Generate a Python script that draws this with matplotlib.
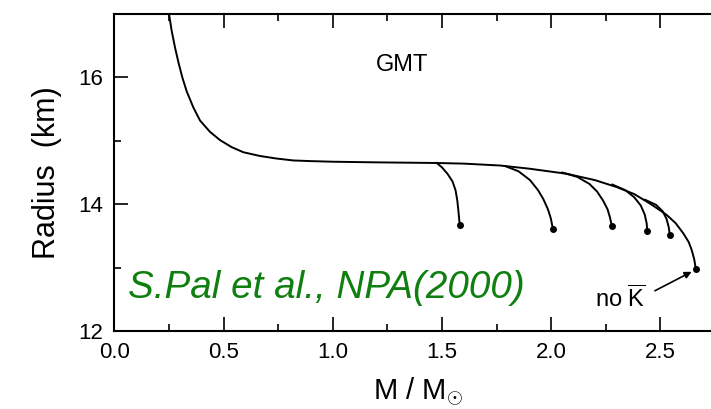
import matplotlib
matplotlib.use("Agg")
import matplotlib.pyplot as plt
from matplotlib.ticker import MultipleLocator, FormatStrFormatter

plt.rcParams["font.family"] = ["Liberation Sans", "DejaVu Sans"]
plt.rcParams["mathtext.fontset"] = "custom"
plt.rcParams["mathtext.rm"] = "Liberation Sans"
plt.rcParams["mathtext.it"] = "Liberation Sans:italic"
plt.rcParams["mathtext.bf"] = "Liberation Sans:bold"

# Mass-radius relation, GMT model (nucleons only)
main_mass = [0.251, 0.262, 0.277, 0.293, 0.311, 0.331, 0.361, 0.392, 0.438,
             0.484, 0.537, 0.590, 0.667, 0.743, 0.819, 0.896, 1.000, 1.200,
             1.476, 1.600, 1.767, 1.900, 2.071, 2.200, 2.300, 2.380, 2.452,
             2.500, 2.529, 2.570, 2.605, 2.630, 2.643, 2.655, 2.662]
main_radius = [16.98, 16.74, 16.48, 16.24, 16.00, 15.78, 15.53, 15.32, 15.14,
               15.01, 14.90, 14.82, 14.76, 14.72, 14.69, 14.68, 14.67, 14.66,
               14.65, 14.64, 14.61, 14.56, 14.48, 14.38, 14.27, 14.16, 14.01,
               13.90, 13.83, 13.70, 13.54, 13.40, 13.28, 13.13, 12.98]

# Branches with antikaon condensation
branch_mass = [
    [1.476, 1.500, 1.525, 1.548, 1.562, 1.570, 1.575, 1.579, 1.582],
    [1.790, 1.850, 1.903, 1.940, 1.964, 1.985, 1.998, 2.005, 2.007],
    [2.050, 2.120, 2.175, 2.210, 2.237, 2.258, 2.270, 2.276, 2.277],
    [2.280, 2.340, 2.380, 2.410, 2.428, 2.437, 2.440],
    [2.430, 2.480, 2.510, 2.528, 2.538, 2.543],
]
branch_radius = [
    [14.65, 14.58, 14.48, 14.36, 14.22, 14.06, 13.90, 13.75, 13.67],
    [14.60, 14.52, 14.38, 14.22, 14.08, 13.92, 13.78, 13.66, 13.61],
    [14.50, 14.43, 14.32, 14.20, 14.06, 13.92, 13.78, 13.68, 13.65],
    [14.31, 14.22, 14.11, 13.98, 13.84, 13.70, 13.58],
    [14.07, 13.99, 13.89, 13.77, 13.64, 13.52],
]

W, H = 711, 409
fig = plt.figure(figsize=(W / 100, H / 100), dpi=100)
x0, x1 = 114.4, 114.4 + 2.9 * 218.4
y_top, y_bot = 14, 331
ax = fig.add_axes([x0 / W, (H - y_bot) / H, (x1 - x0) / W, (y_bot - y_top) / H])

lw = 1.4
ax.plot(main_mass, main_radius, color="black", lw=lw,
        solid_joinstyle="round", solid_capstyle="round")
ax.plot(main_mass[-1], main_radius[-1], "o", color="black", ms=4)
for m, r in zip(branch_mass, branch_radius):
    ax.plot(m, r, color="black", lw=lw, solid_joinstyle="round")
    ax.plot(m[-1], r[-1], "o", color="black", ms=4)

ax.set_xlim(0, 2.9)
ax.set_ylim(12, 17)
ax.xaxis.set_major_locator(MultipleLocator(0.5))
ax.xaxis.set_minor_locator(MultipleLocator(0.25))
ax.yaxis.set_major_locator(MultipleLocator(2))
ax.yaxis.set_minor_locator(MultipleLocator(1))
ax.xaxis.set_major_formatter(FormatStrFormatter("%.1f"))
ax.tick_params(which="both", direction="in", top=True, right=True,
               width=1.2, labelsize=16, pad=8)
ax.tick_params(which="major", length=10)
ax.tick_params(which="minor", length=5)
for s in ax.spines.values():
    s.set_linewidth(1.5)

ax.set_ylabel("Radius  (km)", fontsize=22, labelpad=12)
fig.text(372.7 / W, (H - 399.0) / H, r"M / M$_{\odot}$", fontsize=21,
         ha="left", va="baseline")

ax.text(1.319, 16.10, "GMT", fontsize=17, ha="center", va="baseline")
ax.text(0.06, 12.52, "S.Pal et al., NPA(2000)", fontsize=27.8, style="italic",
        color="#0f7f0f", ha="left", va="baseline")
ax.text(2.20, 12.378, r"no $\overline{\mathrm{K}}$", fontsize=17,
        ha="left", va="baseline")
ax.annotate("", xy=(2.643, 12.934), xytext=(2.475, 12.635),
            arrowprops=dict(arrowstyle="-|>", color="black", lw=1.2,
                            mutation_scale=10, shrinkA=0, shrinkB=0))

fig.savefig("out.png", dpi=100)
